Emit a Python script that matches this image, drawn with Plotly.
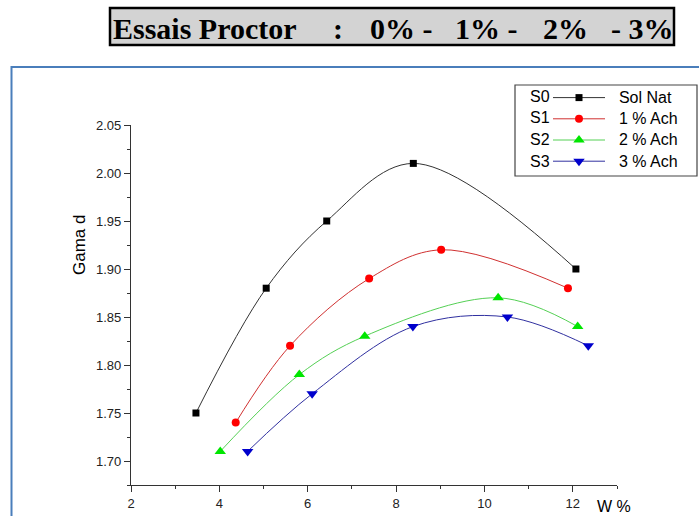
import plotly.graph_objects as go

# ---- data ----
W_S0 = [3.47, 5.06, 6.43, 8.39, 12.07]
G_S0 = [1.75, 1.88, 1.95, 2.01, 1.90]
W_S1 = [4.37, 5.60, 7.39, 9.02, 11.89]
G_S1 = [1.74, 1.82, 1.89, 1.92, 1.88]
W_S2 = [4.02, 5.81, 7.29, 10.31, 12.11]
G_S2 = [1.71, 1.79, 1.83, 1.87, 1.84]
W_S3 = [4.64, 6.10, 8.38, 10.52, 12.35]
G_S3 = [1.71, 1.77, 1.84, 1.85, 1.82]

series_codes = ["S0", "S1", "S2", "S3"]
series_names = ["Sol Nat", "1 % Ach", "2 % Ach", "3 % Ach"]
x_ticks = [2, 4, 6, 8, 10, 12]
y_ticks = [1.70, 1.75, 1.80, 1.85, 1.90, 1.95, 2.00, 2.05]
title_parts = ["Essais Proctor", ":", "0% -", "1% -", "2%", "- 3%"]

# ---- layout geometry (pixels) ----
FW, FH = 699, 516
ML, MR, MT, MB = 131, 82, 125, 31
PW = FW - ML - MR
PH = FH - MT - MB


def px(x):
    return (x - ML) / PW


def py(y):
    return (FH - MB - y) / PH


styles = [
    dict(symbol="square", size=7, mcolor="#000000", lcolor="#333333"),
    dict(symbol="circle", size=8, mcolor="#ff0000", lcolor="#d03030"),
    dict(symbol="triangle-up", size=10, mcolor="#00e600", lcolor="#55d055"),
    dict(symbol="triangle-down", size=10, mcolor="#0000cc", lcolor="#3030a0"),
]
xs = [W_S0, W_S1, W_S2, W_S3]
ys = [G_S0, G_S1, G_S2, G_S3]

fig = go.Figure()
for xv, yv, nm, st in zip(xs, ys, series_names, styles):
    fig.add_trace(go.Scatter(
        x=xv, y=yv, name="<span style='font-size:16px'>\u00a0\u00a0" + nm + "</span>",
        mode="lines+markers",
        line=dict(color=st["lcolor"], width=1, shape="spline", smoothing=1.0),
        marker=dict(symbol=st["symbol"], size=st["size"], color=st["mcolor"],
                    line=dict(width=0)),
    ))

font_sans = "Liberation Sans, Arial, sans-serif"
font_serif = "Liberation Serif, Times New Roman, serif"

shapes = [
    # blue frame
    dict(type="rect", xref="paper", yref="paper", x0=px(11.5), x1=px(730),
         y0=py(560), y1=py(67), line=dict(color="#4a7ebb", width=2), layer="below"),
    # title box
    dict(type="rect", xref="paper", yref="paper", x0=px(110), x1=px(674),
         y0=py(45), y1=py(8), fillcolor="#d3d3d3", line=dict(color="#000000", width=2.5),
         layer="below"),
    # legend box
    dict(type="rect", xref="paper", yref="paper", x0=px(515), x1=px(697),
         y0=py(176), y1=py(85), fillcolor="white", line=dict(color="#444444", width=1.2),
         layer="below"),
]

annotations = []
title_x = [111, 331, 368, 453, 541, 609]
for t, x0 in zip(title_parts, title_x):
    annotations.append(dict(text="<b>%s</b>" % t, xref="paper", yref="paper",
                            x=px(x0), y=py(28), xanchor="left", yanchor="middle",
                            showarrow=False, font=dict(family=font_serif, size=30, color="black")))

row_y = [96, 117.7, 139.4, 161.1]
for code, yy in zip(series_codes, row_y):
    annotations.append(dict(text=code, xref="paper", yref="paper", x=px(540), y=py(yy),
                            xanchor="center", yanchor="middle", showarrow=False,
                            font=dict(family=font_sans, size=16, color="black")))

annotations.append(dict(text="Gama d", xref="paper", yref="paper", x=px(79), y=py(245),
                        xanchor="center", yanchor="middle", textangle=-90, showarrow=False,
                        font=dict(family=font_sans, size=17, color="black")))
annotations.append(dict(text="W %", xref="paper", yref="paper", x=px(614), y=py(506),
                        xanchor="center", yanchor="middle", showarrow=False,
                        font=dict(family=font_sans, size=16, color="black")))

fig.update_layout(
    width=FW, height=FH,
    margin=dict(l=ML, r=MR, t=MT, b=MB, autoexpand=False),
    paper_bgcolor="white", plot_bgcolor="white",
    showlegend=True,
    legend=dict(x=px(548), y=py(82), xanchor="left", yanchor="top",
                bgcolor="rgba(0,0,0,0)", borderwidth=0, itemwidth=52,
                font=dict(family=font_sans, size=14, color="black"),
                tracegroupgap=0),
    shapes=shapes, annotations=annotations,
    xaxis=dict(range=[2, 13], tickvals=x_ticks, ticktext=[str(v) for v in x_ticks],
               showgrid=False, zeroline=False, showline=True, linecolor="#333333", linewidth=1.3,
               ticks="outside", ticklen=6, tickcolor="#333333", tickwidth=1.2,
               tickfont=dict(family=font_sans, size=13, color="#222222"),
               minor=dict(dtick=1, tick0=2, ticks="outside", ticklen=3, tickcolor="#333333", showgrid=False)),
    yaxis=dict(range=[1.675, 2.05], tickvals=y_ticks, ticktext=["%.2f" % v for v in y_ticks],
               showgrid=False, zeroline=False, showline=True, linecolor="#333333", linewidth=1.3,
               ticks="outside", ticklen=6, tickcolor="#333333", tickwidth=1.2,
               tickfont=dict(family=font_sans, size=13, color="#222222"),
               minor=dict(dtick=0.025, tick0=1.70, ticks="outside", ticklen=3, tickcolor="#333333", showgrid=False)),
)

fig.write_html("out.html", config={"displayModeBar": False},
               post_script="document.body.style.margin='0';document.body.style.overflow='hidden';")
